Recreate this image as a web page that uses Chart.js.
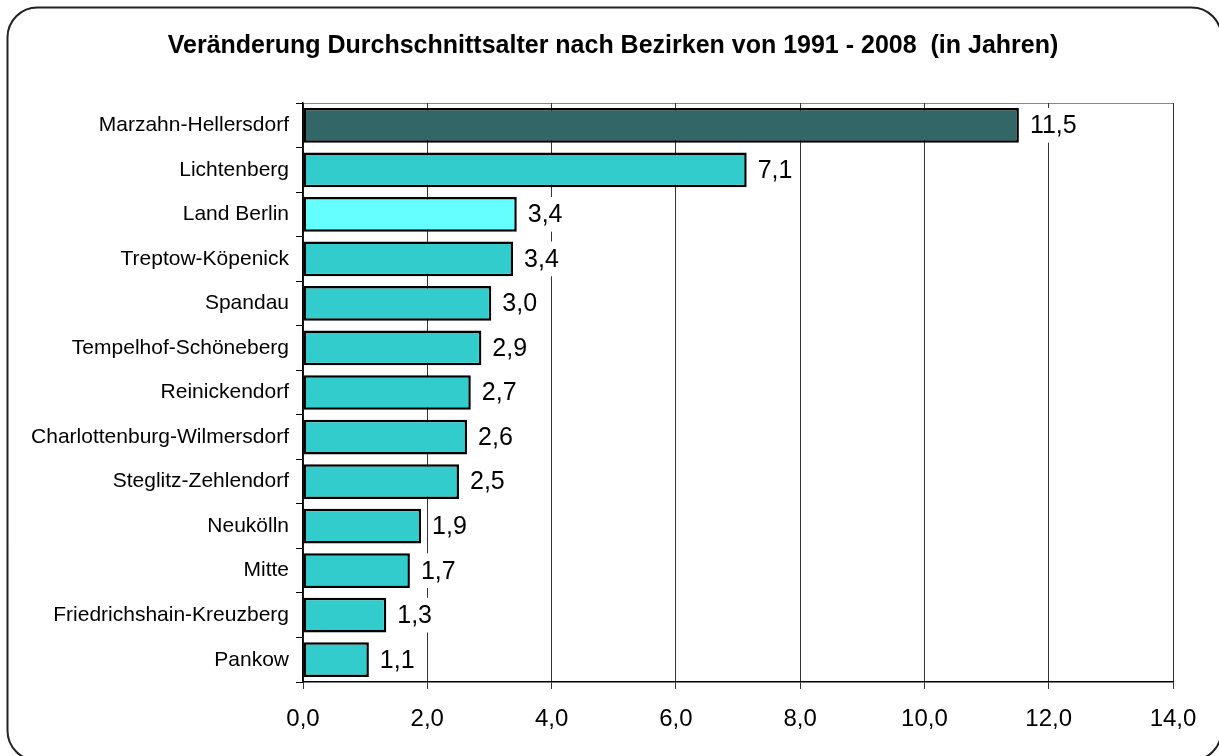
<!DOCTYPE html>
<html lang="de">
<head>
    <meta charset="UTF-8">
    <title>Durchschnittsalter Bezirke</title>
    <script src="https://cdn.jsdelivr.net/npm/chart.js"></script>
    <style>
        html, body {
            margin: 0;
            padding: 0;
            background: #fff;
        }
        #ageChart {
            display: block;
        }
    </style>
</head>
<body>

<canvas id="ageChart" width="1219" height="756"></canvas>

<script>
    // data
    const districts = [
        'Marzahn-Hellersdorf', 'Lichtenberg', 'Land Berlin', 'Treptow-Köpenick',
        'Spandau', 'Tempelhof-Schöneberg', 'Reinickendorf', 'Charlottenburg-Wilmersdorf',
        'Steglitz-Zehlendorf', 'Neukölln', 'Mitte', 'Friedrichshain-Kreuzberg', 'Pankow'
    ];
    const ageChange = [11.52, 7.14, 3.44, 3.38, 3.03, 2.87, 2.70, 2.64, 2.51, 1.90, 1.72, 1.34, 1.06];
    const xTickValues = [0, 2, 4, 6, 8, 10, 12, 14];
    const chartTitle = 'Veränderung Durchschnittsalter nach Bezirken von 1991 - 2008  (in Jahren)';

    const FONT = '"Liberation Sans", Arial, sans-serif';

    function fmt(v) {
        return v.toFixed(1).replace('.', ',');
    }

    // rounded frame (runs off right/bottom edge), title, thin line on top of plot area
    const framePlugin = {
        id: 'frame',
        beforeDraw(chart) {
            const ctx = chart.ctx;
            const a = chart.chartArea;
            ctx.save();
            ctx.fillStyle = '#fff';
            ctx.fillRect(0, 0, chart.width, chart.height);
            ctx.strokeStyle = '#222';
            ctx.lineWidth = 2;
            ctx.beginPath();
            ctx.roundRect(7.5, 7.5, 1214, 753, 30);
            ctx.stroke();

            // title is centred on the whole picture, not on the plot
            ctx.fillStyle = '#000';
            ctx.font = 'bold 25px ' + FONT;
            ctx.textAlign = 'center';
            ctx.textBaseline = 'alphabetic';
            ctx.fillText(chartTitle, 613, 53);

            ctx.strokeStyle = '#888';
            ctx.lineWidth = 1;
            ctx.beginPath();
            ctx.moveTo(a.left, a.top + 0.5);
            ctx.lineTo(a.right, a.top + 0.5);
            ctx.stroke();
            ctx.restore();
        }
    };

    // value labels right of each bar, on a white box that hides the grid
    const valueLabels = {
        id: 'valueLabels',
        afterDatasetsDraw(chart) {
            const ctx = chart.ctx;
            const meta = chart.getDatasetMeta(0);
            ctx.save();
            ctx.font = '25px ' + FONT;
            ctx.textAlign = 'left';
            ctx.textBaseline = 'middle';
            meta.data.forEach((bar, i) => {
                const txt = fmt(ageChange[i]);
                const w = ctx.measureText(txt).width;
                const h = bar.height;
                ctx.fillStyle = '#fff';
                ctx.fillRect(bar.x + 8, bar.y - h / 2, w + 6, h);
                ctx.fillStyle = '#000';
                ctx.fillText(txt, bar.x + 11, bar.y + 1);
            });
            ctx.restore();
        }
    };

    const ctx = document.getElementById('ageChart').getContext('2d');
    const ageChart = new Chart(ctx, {
        type: 'bar',
        data: {
            labels: districts,
            datasets: [{
                data: ageChange,
                backgroundColor: districts.map(d => {
                    if (d == 'Marzahn-Hellersdorf') return '#336666';
                    if (d == 'Land Berlin') return '#66FFFF';
                    return '#33CCCC';
                }),
                borderColor: '#000',
                borderWidth: 2.5,
                borderSkipped: false,
                categoryPercentage: 1.0,
                barPercentage: 0.78
            }]
        },
        options: {
            indexAxis: 'y',
            responsive: false,
            animation: false,
            layout: {
                padding: { left: 0, right: 46, top: 103, bottom: 0 }
            },
            plugins: {
                legend: { display: false },
                tooltip: { enabled: false },
                title: { display: false }
            },
            scales: {
                x: {
                    min: xTickValues[0],
                    max: xTickValues[xTickValues.length - 1],
                    afterFit: function (scale) {
                        scale.height = 74;
                    },
                    ticks: {
                        stepSize: 2,
                        color: '#000',
                        padding: 16,
                        font: { family: FONT, size: 24 },
                        callback: function (v) { return fmt(v); }
                    },
                    grid: {
                        color: '#333',
                        lineWidth: 1,
                        tickLength: 7
                    },
                    border: { color: '#000', width: 1.5 }
                },
                y: {
                    afterFit: function (scale) {
                        scale.width = 303;
                    },
                    ticks: {
                        color: '#000',
                        padding: 7,
                        font: { family: FONT, size: 21 }
                    },
                    grid: {
                        offset: true,
                        drawOnChartArea: false,
                        color: '#000',
                        tickLength: 7
                    },
                    border: { color: '#000', width: 1.5 }
                }
            }
        },
        plugins: [framePlugin, valueLabels]
    });
</script>
</body>
</html>
